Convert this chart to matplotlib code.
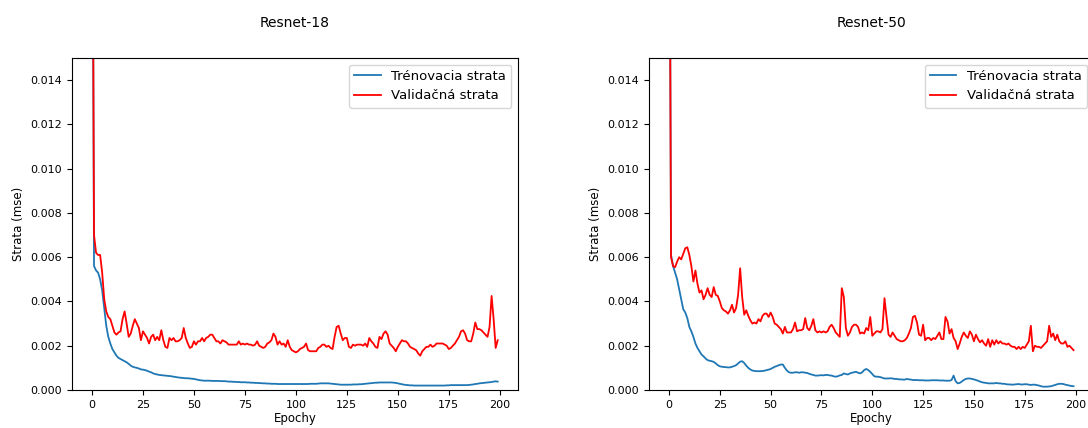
import numpy as np
import matplotlib
matplotlib.use("Agg")
import matplotlib.pyplot as plt

# loss values in units of 1e-3 (mse), epochs 0..199
epochs = np.arange(200)

r18_train = [30,
    5.6, 5.4, 5.3, 5.0, 4.5, 3.7, 2.9, 2.4, 2.1, 1.85,
    1.7, 1.55, 1.45, 1.4, 1.35, 1.3, 1.25, 1.18, 1.1, 1.05,
    1.02, 1.0, 0.97, 0.93, 0.92, 0.9, 0.87, 0.83, 0.8, 0.75,
    0.72, 0.7, 0.68, 0.67, 0.66, 0.65, 0.64, 0.63, 0.62, 0.6,
    0.59, 0.57, 0.56, 0.55, 0.54, 0.53, 0.53, 0.52, 0.51, 0.5,
    0.48, 0.46, 0.44, 0.43, 0.42, 0.42, 0.42, 0.42, 0.41, 0.41,
    0.41, 0.41, 0.4, 0.4, 0.4, 0.39, 0.38, 0.38, 0.37, 0.37,
    0.36, 0.36, 0.35, 0.35, 0.35, 0.34, 0.34, 0.33, 0.33, 0.32,
    0.32, 0.31, 0.31, 0.3, 0.3, 0.29, 0.29, 0.28, 0.28, 0.28,
    0.27, 0.27, 0.27, 0.27, 0.27, 0.27, 0.27, 0.27, 0.27, 0.27,
    0.27, 0.27, 0.27, 0.27, 0.27, 0.27, 0.28, 0.28, 0.28, 0.28,
    0.29, 0.3, 0.3, 0.3, 0.3, 0.3, 0.29, 0.28, 0.27, 0.26,
    0.25, 0.24, 0.24, 0.24, 0.24, 0.24, 0.24, 0.25, 0.25, 0.25,
    0.26, 0.26, 0.27, 0.28, 0.29, 0.3, 0.31, 0.32, 0.33, 0.33,
    0.34, 0.34, 0.34, 0.34, 0.34, 0.34, 0.34, 0.33, 0.32, 0.3,
    0.28, 0.26, 0.24, 0.23, 0.22, 0.21, 0.21, 0.2, 0.2, 0.2,
    0.2, 0.2, 0.2, 0.2, 0.2, 0.2, 0.2, 0.2, 0.2, 0.2,
    0.2, 0.2, 0.2, 0.21, 0.21, 0.22, 0.22, 0.22, 0.22, 0.22,
    0.22, 0.22, 0.22, 0.22, 0.23, 0.24, 0.25, 0.27, 0.28, 0.3,
    0.31, 0.32, 0.33, 0.34, 0.35, 0.36, 0.38, 0.39, 0.38]

r18_val = [30,
    7.0, 6.2, 6.1, 6.1, 5.3, 4.1, 3.55, 3.3, 3.2, 2.9,
    2.6, 2.5, 2.6, 2.65, 3.2, 3.55, 3.0, 2.4, 2.55, 2.9,
    3.2, 3.0, 2.8, 2.25, 2.65, 2.5, 2.35, 2.1, 2.4, 2.5,
    2.25, 2.4, 2.25, 2.7, 2.25, 1.95, 1.9, 2.35, 2.25, 2.35,
    2.2, 2.2, 2.25, 2.35, 2.8, 2.35, 2.1, 1.9, 1.95, 2.2,
    2.05, 2.2, 2.2, 2.35, 2.2, 2.35, 2.4, 2.5, 2.5, 2.35,
    2.2, 2.2, 2.1, 2.25, 2.2, 2.15, 2.05, 2.05, 2.05, 2.05,
    2.05, 2.2, 2.05, 2.1, 2.05, 2.1, 2.05, 2.05, 2.0, 2.05,
    2.2, 2.0, 1.95, 1.9, 1.95, 2.1, 2.15, 2.25, 2.55, 2.4,
    2.05, 2.2, 2.05, 2.1, 1.95, 2.25, 1.95, 1.8, 1.75, 1.7,
    1.75, 1.85, 1.9, 1.95, 2.1, 1.8, 1.75, 1.75, 1.75, 1.75,
    1.9, 1.95, 2.05, 2.05, 1.95, 2.0, 1.9, 1.85, 2.4, 2.85,
    2.9, 2.55, 2.25, 2.35, 2.35, 1.95, 1.9, 2.05, 2.0, 2.05,
    2.05, 2.05, 2.0, 2.1, 1.95, 2.35, 2.2, 2.1, 1.95, 1.9,
    2.4, 2.3, 2.55, 2.65, 2.5, 2.1, 2.0, 1.9, 1.75, 1.95,
    2.1, 2.25, 2.2, 2.2, 2.1, 1.95, 1.9, 1.85, 1.8, 1.65,
    1.55, 1.75, 1.85, 1.95, 1.95, 2.05, 1.95, 2.0, 2.1, 2.1,
    2.1, 2.1, 2.05, 2.0, 1.85, 1.9, 2.0, 2.1, 2.25, 2.4,
    2.65, 2.7, 2.55, 2.25, 2.2, 2.2, 2.55, 3.05, 2.75, 2.75,
    2.7, 2.6, 2.5, 2.4, 2.85, 4.25, 3.2, 1.9, 2.25]

r50_train = [30,
    6.1, 5.6, 5.3, 5.0, 4.55, 4.1, 3.65, 3.5, 3.25, 2.85,
    2.65, 2.4, 2.1, 1.9, 1.75, 1.6, 1.52, 1.42, 1.35, 1.32,
    1.3, 1.27, 1.2, 1.12, 1.07, 1.05, 1.04, 1.03, 1.02, 1.02,
    1.05, 1.08, 1.12, 1.2, 1.28, 1.3, 1.22, 1.1, 1.0, 0.93,
    0.88, 0.86, 0.85, 0.85, 0.85, 0.86, 0.87, 0.9, 0.92, 0.95,
    1.0, 1.05, 1.08, 1.12, 1.15, 1.15, 1.0, 0.88, 0.8, 0.78,
    0.78, 0.8, 0.8, 0.78, 0.8, 0.8, 0.78, 0.77, 0.73, 0.7,
    0.68, 0.65, 0.65, 0.66, 0.67, 0.66, 0.68, 0.68, 0.66, 0.65,
    0.62, 0.6, 0.62, 0.66, 0.68, 0.75, 0.72, 0.7, 0.75, 0.78,
    0.8, 0.82, 0.78, 0.75, 0.8, 0.9, 0.95, 0.9, 0.82, 0.72,
    0.62, 0.6, 0.6, 0.58, 0.55, 0.52, 0.52, 0.52, 0.53, 0.52,
    0.5, 0.5, 0.48, 0.48, 0.47, 0.47, 0.5, 0.48, 0.47, 0.45,
    0.45, 0.45, 0.44, 0.44, 0.44, 0.43, 0.43, 0.43, 0.44, 0.44,
    0.44, 0.44, 0.43, 0.43, 0.43, 0.42, 0.42, 0.42, 0.45, 0.65,
    0.4, 0.3, 0.32, 0.38, 0.45, 0.5, 0.52, 0.52, 0.5, 0.48,
    0.45, 0.42, 0.38, 0.35, 0.33, 0.32, 0.3, 0.3, 0.3, 0.3,
    0.32, 0.3, 0.3, 0.28, 0.28, 0.26, 0.25, 0.25, 0.24, 0.25,
    0.26, 0.27, 0.25, 0.25, 0.26, 0.26, 0.24, 0.23, 0.24, 0.24,
    0.22, 0.2, 0.17, 0.15, 0.15, 0.15, 0.16, 0.17, 0.2, 0.23,
    0.26, 0.28, 0.28, 0.27, 0.24, 0.22, 0.2, 0.18, 0.17]

r50_val = [30,
    6.0, 5.6, 5.55, 5.8, 6.0, 5.9, 6.15, 6.4, 6.45, 6.1,
    5.6, 4.9, 5.4, 4.8, 4.4, 4.5, 4.1, 4.3, 4.6, 4.3,
    4.2, 4.65, 4.3, 4.25, 4.0, 3.7, 3.6, 3.55, 3.45, 3.6,
    3.85, 3.5, 3.7, 4.3, 5.5, 4.2, 3.4, 3.6, 3.35, 3.15,
    3.0, 3.05, 3.0, 3.2, 3.1, 3.35, 3.45, 3.45, 3.3, 3.5,
    3.3, 3.0, 2.95, 2.85, 2.75, 2.55, 2.85, 2.6, 2.6, 2.6,
    2.75, 3.05, 2.65, 2.7, 2.7, 2.75, 3.25, 2.8, 2.7, 2.9,
    3.2, 2.7, 2.6, 2.65, 2.6, 2.65, 2.6, 2.65, 2.85, 2.95,
    2.8, 2.6, 2.5, 2.4, 4.6, 4.2, 2.8, 2.45, 2.6, 2.85,
    2.95, 2.95, 2.85, 2.55, 2.6, 2.55, 2.8, 2.7, 3.3, 2.45,
    2.55, 2.65, 2.65, 2.6, 2.75, 4.15, 3.3, 2.5, 2.4, 2.6,
    2.45, 2.3, 2.25, 2.2, 2.2, 2.25, 2.35, 2.55, 2.8, 3.3,
    3.35, 3.05, 2.5, 2.45, 2.95, 2.25, 2.35, 2.35, 2.25, 2.35,
    2.3, 2.45, 2.6, 2.3, 2.3, 3.3, 3.1, 2.55, 2.75, 2.35,
    2.2, 1.85, 2.1, 2.4, 2.6, 2.45, 2.35, 2.65, 2.5, 2.2,
    2.5, 2.3, 2.15, 2.25, 2.1, 2.0, 2.3, 1.95, 2.25, 2.05,
    2.25, 2.1, 2.2, 2.1, 2.1, 2.05, 2.1, 2.0, 1.95, 1.95,
    1.85, 1.95, 1.85, 1.95, 1.9, 2.05, 2.2, 2.9, 1.75, 2.0,
    1.95, 1.95, 1.9, 2.0, 2.1, 2.2, 2.9, 2.4, 2.55, 2.25,
    2.5, 2.2, 2.1, 2.1, 2.2, 1.95, 2.0, 1.9, 1.8]

titles = ['Resnet-18', 'Resnet-50']
series = [(r18_train, r18_val), (r50_train, r50_val)]

fig = plt.figure(figsize=(10.88, 4.28), dpi=100)
# right panel is cut off at the picture edge, like in the original screenshot
positions = [[0.0659, 0.0888, 0.4102, 0.7757],
             [0.5963, 0.0888, 0.4090, 0.7757]]

for pos, title, (train, val) in zip(positions, titles, series):
    ax = fig.add_axes(pos)
    ax.plot(epochs, np.array(train) * 1e-3, color='#1f77b4', lw=1.3, label='Trénovacia strata')
    ax.plot(epochs, np.array(val) * 1e-3, color='red', lw=1.3, label='Validačná strata')
    ax.set_ylim(0, 0.015)
    ax.set_yticks(np.arange(0, 0.0141, 0.002))
    ax.set_xticks([0, 25, 50, 75, 100, 125, 150, 175, 200])
    ax.tick_params(labelsize=8)
    ax.set_title(title, fontsize=10, pad=22)
    ax.set_xlabel('Epochy', fontsize=8.5, labelpad=2)
    ax.set_ylabel('Strata (mse)', fontsize=8.5)
    ax.legend(loc='upper right', fontsize=9.5)

plt.savefig("out.png", dpi=100)
